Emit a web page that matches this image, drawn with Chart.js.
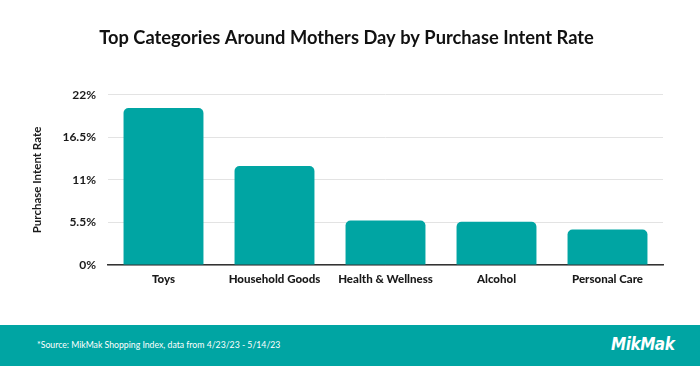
<!DOCTYPE html>
<html>
<head>
<meta charset="utf-8">
<script src="https://cdn.jsdelivr.net/npm/chart.js@4"></script>
<style>
  html, body { margin: 0; padding: 0; background: #ffffff; }
  #wrap { position: relative; width: 700px; height: 366px; overflow: hidden; font-family: Lato, sans-serif; }
  #chartBox { position: absolute; left: 0; top: 0; width: 700px; height: 325px; }
  #footer { position: absolute; left: 0; top: 325px; width: 700px; height: 41px; background: #00A5A3; }
  #source { position: absolute; left: 37px; top: 14px; color: #ffffff; font-size: 8.7px; font-family: Lato, sans-serif; }
  #logo { position: absolute; left: 611px; top: 9px; color: #ffffff; font-size: 17px; font-weight: bold; font-style: italic; font-family: "Liberation Sans Narrow", "DejaVu Sans Condensed", sans-serif; letter-spacing: -0.5px; }
</style>
</head>
<body>
<div id="wrap">
  <div id="chartBox"><canvas id="c" width="700" height="325"></canvas></div>
  <div id="footer">
    <div id="source">*Source: MikMak Shopping Index, data from 4/23/23 - 5/14/23</div>
    <div id="logo">MikMak</div>
  </div>
</div>
<script>
const chartTitle = "Top Categories Around Mothers Day by Purchase Intent Rate";
const yAxisTitle = "Purchase Intent Rate";
const categories = ["Toys", "Household Goods", "Health & Wellness", "Alcohol", "Personal Care"];
const intentRate = [20.3, 12.8, 5.75, 5.6, 4.6];
const yTicks = [0, 5.5, 11, 16.5, 22];

const teal = "#00A5A3";

new Chart(document.getElementById("c"), {
  type: "bar",
  data: {
    labels: categories,
    datasets: [{
      label: yAxisTitle,
      data: intentRate,
      backgroundColor: teal,
      borderRadius: { topLeft: 5, topRight: 5, bottomLeft: 0, bottomRight: 0 },
      borderSkipped: "bottom",
      categoryPercentage: 0.72,
      barPercentage: 1.0
    }]
  },
  options: {
    responsive: false,
    animation: false,
    devicePixelRatio: 1,
    layout: { padding: { left: 30, right: 37, top: 0, bottom: 0 } },
    plugins: {
      legend: { display: false },
      tooltip: { enabled: false },
      title: {
        display: true,
        text: chartTitle,
        color: "#111111",
        font: { family: "Lato", size: 18.3, weight: "bold" },
        padding: { top: 27, bottom: 46 }
      }
    },
    scales: {
      x: {
        grid: { display: false, drawTicks: false },
        border: { display: true, color: "#333333", width: 1.5 },
        ticks: {
          color: "#1a1a1a",
          font: { family: "Lato", size: 11.5, weight: "900" },
          padding: 7,
          maxRotation: 0
        },
        afterFit: (s) => { s.height = 60; }
      },
      y: {
        min: 0,
        max: 22,
        afterBuildTicks: (s) => { s.ticks = yTicks.map(v => ({ value: v })); },
        grid: { color: "#e3e3e3", lineWidth: 1, drawTicks: false },
        border: { display: false },
        ticks: {
          color: "#1a1a1a",
          font: { family: "Lato", size: 12, weight: "bold" },
          padding: 12,
          callback: (v) => v + "%"
        },
        title: {
          display: true,
          text: yAxisTitle,
          color: "#1a1a1a",
          font: { family: "Lato", size: 11.5, weight: "bold" },
          padding: { top: 0, bottom: 0 }
        },
        afterFit: (s) => { s.width = 78; }
      }
    }
  }
});
</script>
</body>
</html>
